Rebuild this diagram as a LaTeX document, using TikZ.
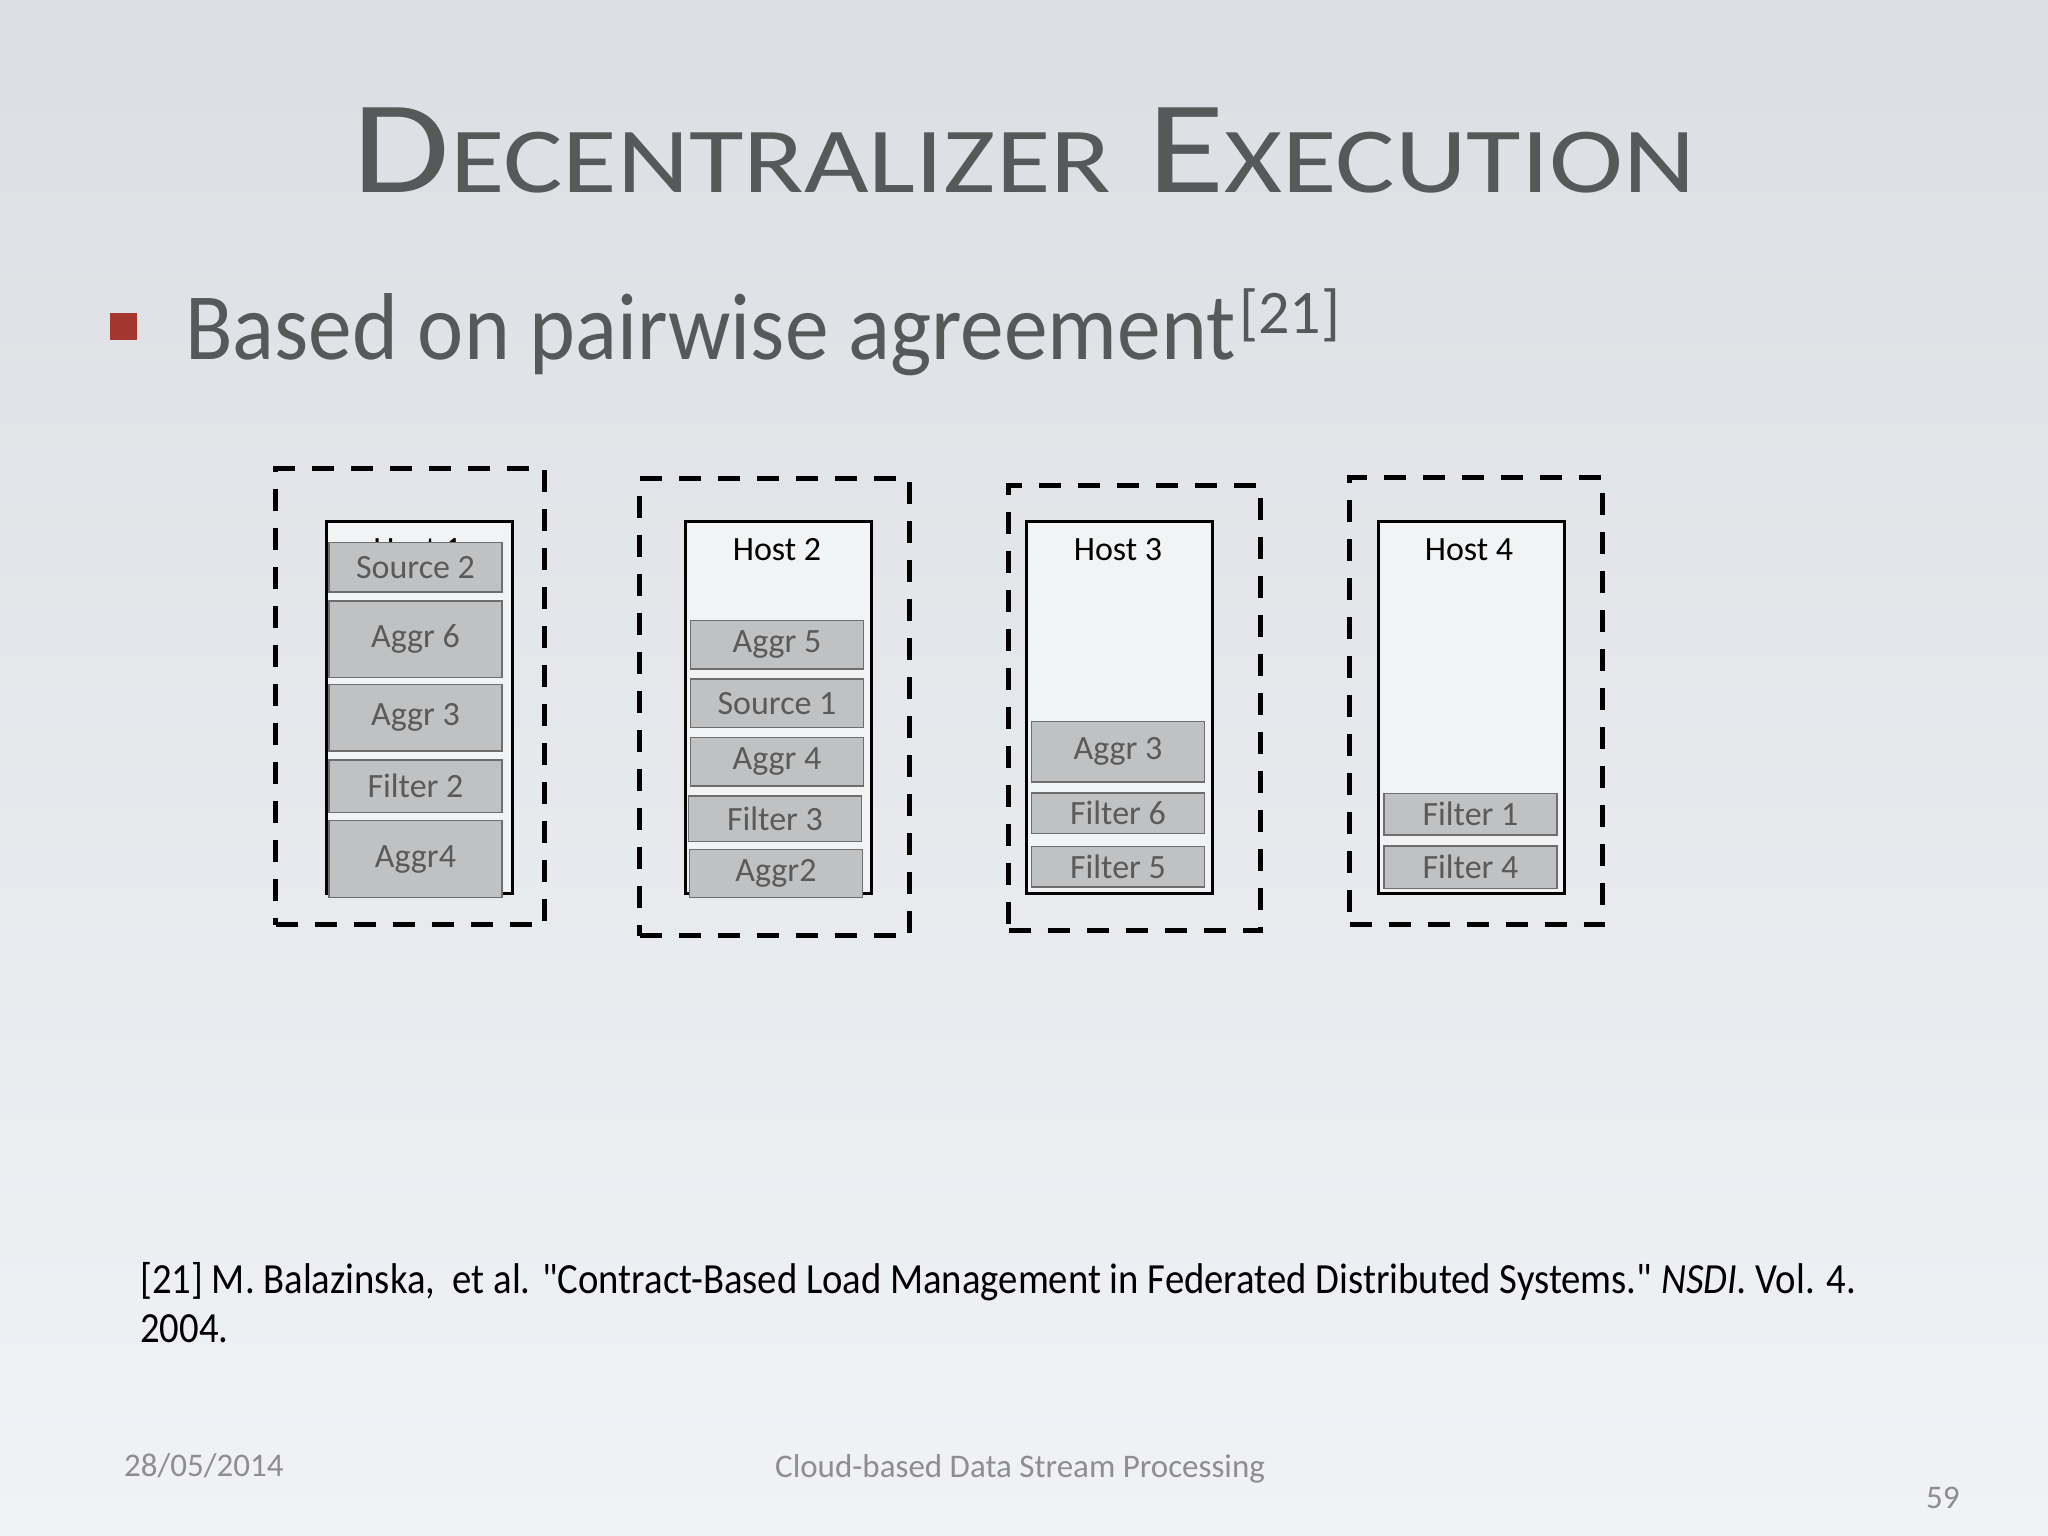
\documentclass[tikz,border=0pt]{standalone}
\usepackage{fontspec}
\setmainfont{Carlito}[Ligatures=TeXOff]
\usetikzlibrary{positioning}
\usepackage{tikz}

\definecolor{titlegray}{HTML}{57585A}
\definecolor{opfill}{HTML}{C0C1C2}
\definecolor{opdraw}{HTML}{6E6E6E}
\definecolor{optext}{HTML}{5A5A5A}
\definecolor{hostfill}{HTML}{F2F3F4}
\definecolor{bulletred}{HTML}{A3362F}
\definecolor{footgray}{HTML}{8E8E8E}
\definecolor{bgtop}{HTML}{DCDEE3}
\definecolor{bgbot}{HTML}{F1F2F6}

\begin{document}
\begin{tikzpicture}[x=1pt,y=-1pt,
  zone/.style={draw, line width=5pt, dash pattern=on 22pt off 17pt, inner sep=0pt},
  hostbox/.style={draw, line width=3pt, fill=hostfill, minimum width=186pt, minimum height=372pt, anchor=north west, inner sep=0pt},
  hostlabel/.style={inner sep=0pt, font=\fontsize{34}{40}\selectfont},
  opbox/.style={draw=opdraw, line width=1.5pt, fill=opfill, text=optext, minimum width=173pt, inner sep=0pt, font=\fontsize{34}{40}\selectfont},
  txt/.style={inner sep=0pt, anchor=base west}]

\useasboundingbox (0,0) rectangle (2048,1536);
\shade[top color=bgtop, bottom color=bgbot] (0,0) rectangle (2048,1536);

% title and bullet
\node[inner sep=0pt, anchor=base, text=titlegray] (title) at (1024,193)
  {\scalebox{1.2}[1]{{\fontsize{132}{140}\selectfont D}{\fontsize{93}{110}\selectfont ECENTRALIZER}\hspace{30pt}{\fontsize{132}{140}\selectfont E}{\fontsize{93}{110}\selectfont XECUTION}}};
\node[fill=bulletred, minimum size=27pt, inner sep=0pt] (bullet) at (123.5,326.5) {};
\node[txt, text=titlegray] (point) at (185,359)
  {\scalebox{0.92}[1]{\fontsize{95}{100}\selectfont Based on pairwise agreement}\hspace{4pt}\raisebox{26pt}{\fontsize{62}{70}\selectfont [21]}};

% dashed zones
\node[zone, minimum width=269pt, minimum height=456pt] (Z_1) at (410,696.5) {};
\node[zone, minimum width=270pt, minimum height=457pt] (Z_2) at (774.5,707) {};
\node[zone, minimum width=252pt, minimum height=445pt] (Z_3) at (1134.5,708) {};
\node[zone, minimum width=253pt, minimum height=447pt] (Z_4) at (1476,701) {};

% hosts
\node[hostbox] (Host_1) at (324.5,519.5) {};
\node[hostbox] (Host_2) at (683.5,519.5) {};
\node[hostbox] (Host_3) at (1024.5,519.5) {};
\node[hostbox] (Host_4) at (1376.5,519.5) {};

\node[hostlabel] (L_1) at (417.5,550) {Host 1};
\node[hostlabel] (L_2) at (777,550) {Host 2};
\node[hostlabel] (L_3) at (1118,550) {Host 3};
\node[hostlabel] (L_4) at (1469,550) {Host 4};

% host 1 operators
\node[opbox, minimum height=49.5pt, anchor=north] (Source_2) at (415.5,541.75) {Source 2};
\node[opbox, minimum height=76.5pt, below=7.5pt of Source_2] (Aggr_6) {Aggr 6};
\node[opbox, minimum height=66.5pt, below=5.5pt of Aggr_6] (Aggr_3^1) {Aggr 3};
\node[opbox, minimum height=52.5pt, below=7.5pt of Aggr_3^1] (Filter_2) {Filter 2};
\node[opbox, minimum height=77pt, below=6.5pt of Filter_2] (Aggr_4^1) {Aggr4};

% host 2 operators
\node[opbox, minimum height=48.5pt, anchor=north] (Aggr_5) at (777,619.75) {Aggr 5};
\node[opbox, minimum height=48.5pt, below=8.5pt of Aggr_5] (Source_1) {Source 1};
\node[opbox, minimum height=48.5pt, below=8.5pt of Source_1] (Aggr_4^2) {Aggr 4};
\node[opbox, minimum height=45.5pt, below=8.5pt of Aggr_4^2, xshift=-2pt] (Filter_3) {Filter 3};
\node[opbox, minimum height=48pt, below=6.5pt of Filter_3, xshift=1pt] (Aggr_2) {Aggr2};

% host 3 operators
\node[opbox, minimum height=60.5pt, anchor=north] (Aggr_3^3) at (1118,720.75) {Aggr 3};
\node[opbox, minimum height=40.5pt, below=9.5pt of Aggr_3^3] (Filter_6) {Filter 6};
\node[opbox, minimum height=40.5pt, below=11.5pt of Filter_6] (Filter_5) {Filter 5};

% host 4 operators
\node[opbox, minimum height=41.5pt, anchor=north] (Filter_1) at (1470.5,792.75) {Filter 1};
\node[opbox, minimum height=42.5pt, below=9.5pt of Filter_1] (Filter_4) {Filter 4};

% reference and footer
\node[txt] (ref) at (140,1342)
  {\scalebox{0.9}[1]{\fontsize{43}{49}\selectfont\begin{tabular}[b]{@{}l@{}}[21] M. Balazinska,\ \ et al. "Contract-Based Load Management in Federated Distributed Systems." \textit{NSDI.} Vol. 4.\\2004.\end{tabular}}};
\node[txt, text=footgray, font=\fontsize{33}{40}\selectfont] (date) at (124,1476) {28/05/2014};
\node[txt, text=footgray, font=\fontsize{33}{40}\selectfont] (course) at (775,1477) {Cloud-based Data Stream Processing};
\node[txt, text=footgray, font=\fontsize{33}{40}\selectfont] (page) at (1926,1508) {59};

\end{tikzpicture}
\end{document}
